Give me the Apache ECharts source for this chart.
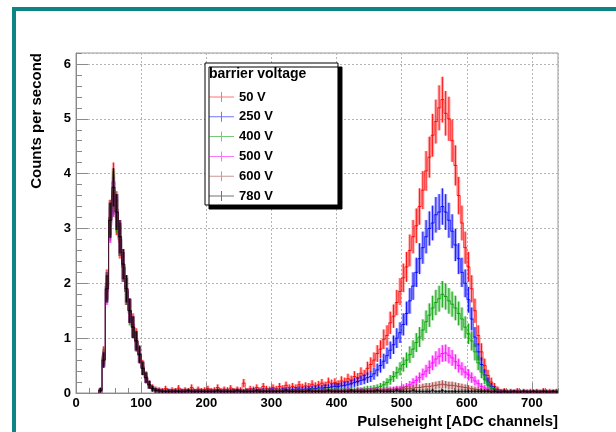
<!DOCTYPE html>
<html>
<head>
<meta charset="utf-8">
<script src="https://cdn.jsdelivr.net/npm/echarts@6/dist/echarts.min.js"></script>
<style>
  html, body { margin: 0; padding: 0; background: #fff; }
  #chart { width: 616px; height: 432px; }
</style>
</head>
<body>
<div id="chart"></div>
<script>
// pulse height spectra, 5 channel bins from channel 0 to 740, counts per second
const BIN_WIDTH = 5;
const ERR_SCALE = 0.18; // error bar half length = ERR_SCALE * sqrt(value)

const names = ['50 V', '250 V', '400 V', '500 V', '600 V', '780 V'];
const colors = ['#ff0000', '#0000ff', '#00a000', '#ff00ff', '#a0403a', '#000000'];

const v50 = [
  0, 0, 0, 0, 0, 0, 0, 0.06, 0.7, 2.0,
  3.2, 3.85, 3.2, 2.75, 2.35, 1.9, 1.5, 1.25, 1.0, 0.72,
  0.48, 0.3, 0.16, 0.1, 0.07, 0.06, 0.05, 0.08, 0.04, 0.06,
  0.05, 0.09, 0.04, 0.06, 0.05, 0.1, 0.04, 0.07, 0.05, 0.06,
  0.08, 0.05, 0.06, 0.1, 0.05, 0.07, 0.06, 0.09, 0.05, 0.07,
  0.06, 0.18, 0.05, 0.08, 0.07, 0.1, 0.06, 0.12, 0.08, 0.07,
  0.1, 0.08, 0.12, 0.09, 0.14, 0.1, 0.12, 0.1, 0.15, 0.11,
  0.13, 0.12, 0.16, 0.13, 0.15, 0.18, 0.14, 0.2, 0.17, 0.19,
  0.16, 0.22, 0.2, 0.26, 0.23, 0.3, 0.27, 0.36, 0.32, 0.45,
  0.52, 0.6, 0.72, 0.8, 0.98, 1.05, 1.28, 1.4, 1.65, 1.85,
  2.1, 2.3, 2.6, 2.85, 3.05, 3.4, 3.7, 4.05, 4.3, 4.7,
  4.95, 5.2, 5.35, 5.1, 5.0, 4.6, 4.15, 3.6, 3.1, 2.65,
  2.3, 1.9, 1.5, 1.05, 0.75, 0.5, 0.32, 0.2, 0.12, 0.07,
  0.04, 0.05, 0.03, 0.04, 0.03, 0.05, 0.03, 0.04, 0.03, 0.04,
  0.03, 0.04, 0.03, 0.05, 0.03, 0.04, 0.03, 0.04
];

const v250 = [
  0, 0, 0, 0, 0, 0, 0, 0.05, 0.62, 1.95,
  3.15, 3.6, 3.3, 2.8, 2.3, 1.85, 1.5, 1.2, 0.95, 0.7,
  0.45, 0.27, 0.15, 0.08, 0.05, 0.04, 0.04, 0.03, 0.04, 0.03,
  0.04, 0.03, 0.04, 0.04, 0.03, 0.04, 0.03, 0.04, 0.04, 0.03,
  0.04, 0.04, 0.03, 0.04, 0.03, 0.04, 0.04, 0.03, 0.04, 0.04,
  0.04, 0.03, 0.04, 0.04, 0.05, 0.04, 0.04, 0.05, 0.04, 0.05,
  0.05, 0.04, 0.05, 0.05, 0.06, 0.05, 0.06, 0.06, 0.07, 0.06,
  0.07, 0.07, 0.08, 0.08, 0.09, 0.09, 0.1, 0.1, 0.11, 0.12,
  0.12, 0.13, 0.14, 0.15, 0.17, 0.19, 0.21, 0.23, 0.25, 0.28,
  0.3, 0.35, 0.42, 0.5, 0.58, 0.68, 0.78, 0.88, 1.0, 1.1,
  1.25, 1.45, 1.68, 1.95, 2.2, 2.45, 2.65, 2.85, 3.0, 3.1,
  3.25, 3.3, 3.4, 3.3, 3.15, 2.95, 2.7, 2.45, 2.2, 2.0,
  1.7, 1.35, 1.02, 0.75, 0.52, 0.33, 0.2, 0.12, 0.07, 0.04,
  0.03, 0.03, 0.02, 0.03, 0.02, 0.03, 0.02, 0.02, 0.03, 0.02,
  0.02, 0.03, 0.02, 0.02, 0.03, 0.02, 0.02, 0.03
];

const v400 = [
  0, 0, 0, 0, 0, 0, 0, 0.05, 0.65, 1.9,
  3.1, 3.7, 3.25, 2.8, 2.3, 1.85, 1.45, 1.2, 0.95, 0.7,
  0.45, 0.28, 0.15, 0.08, 0.05, 0.04, 0.03, 0.04, 0.03, 0.03,
  0.03, 0.04, 0.03, 0.03, 0.04, 0.03, 0.03, 0.04, 0.03, 0.03,
  0.04, 0.03, 0.03, 0.04, 0.03, 0.03, 0.04, 0.03, 0.03, 0.04,
  0.03, 0.03, 0.04, 0.03, 0.04, 0.03, 0.03, 0.04, 0.03, 0.04,
  0.03, 0.04, 0.04, 0.03, 0.04, 0.04, 0.03, 0.04, 0.04, 0.04,
  0.04, 0.04, 0.05, 0.04, 0.05, 0.04, 0.05, 0.05, 0.05, 0.05,
  0.05, 0.05, 0.06, 0.05, 0.06, 0.06, 0.07, 0.06, 0.07, 0.08,
  0.08, 0.09, 0.1, 0.12, 0.15, 0.19, 0.24, 0.3, 0.37, 0.44,
  0.52, 0.6, 0.7, 0.8, 0.92, 1.02, 1.15, 1.3, 1.42, 1.55,
  1.65, 1.72, 1.8, 1.76, 1.68, 1.62, 1.55, 1.45, 1.35, 1.2,
  1.08, 0.95, 0.75, 0.55, 0.38, 0.25, 0.15, 0.08, 0.05, 0.03,
  0.02, 0.02, 0.03, 0.02, 0.02, 0.02, 0.03, 0.02, 0.02, 0.02,
  0.02, 0.02, 0.03, 0.02, 0.02, 0.02, 0.02, 0.03
];

const v500 = [
  0, 0, 0, 0, 0, 0, 0, 0.04, 0.6, 1.85,
  3.05, 3.55, 3.3, 2.85, 2.3, 1.9, 1.5, 1.2, 0.92, 0.68,
  0.44, 0.27, 0.14, 0.08, 0.05, 0.04, 0.03, 0.03, 0.04, 0.03,
  0.03, 0.03, 0.04, 0.03, 0.03, 0.03, 0.04, 0.03, 0.03, 0.03,
  0.03, 0.04, 0.03, 0.03, 0.03, 0.04, 0.03, 0.03, 0.03, 0.04,
  0.03, 0.03, 0.03, 0.04, 0.03, 0.03, 0.04, 0.03, 0.03, 0.03,
  0.03, 0.04, 0.03, 0.03, 0.04, 0.03, 0.03, 0.04, 0.03, 0.04,
  0.03, 0.04, 0.04, 0.03, 0.04, 0.04, 0.04, 0.03, 0.04, 0.04,
  0.04, 0.04, 0.04, 0.05, 0.04, 0.04, 0.05, 0.05, 0.04, 0.05,
  0.05, 0.05, 0.06, 0.05, 0.06, 0.06, 0.07, 0.07, 0.08, 0.08,
  0.1, 0.12, 0.15, 0.19, 0.23, 0.28, 0.34, 0.4, 0.47, 0.55,
  0.62, 0.67, 0.72, 0.73, 0.69, 0.64, 0.57, 0.5, 0.44, 0.38,
  0.33, 0.28, 0.22, 0.17, 0.12, 0.09, 0.06, 0.04, 0.03, 0.02,
  0.02, 0.02, 0.02, 0.01, 0.02, 0.02, 0.01, 0.02, 0.02, 0.01,
  0.02, 0.01, 0.02, 0.02, 0.01, 0.02, 0.02, 0.01
];

const v600 = [
  0, 0, 0, 0, 0, 0, 0, 0.05, 0.66, 1.95,
  3.2, 3.65, 3.35, 2.8, 2.3, 1.85, 1.5, 1.2, 0.95, 0.7,
  0.45, 0.28, 0.15, 0.08, 0.05, 0.04, 0.03, 0.03, 0.03, 0.03,
  0.03, 0.03, 0.03, 0.04, 0.03, 0.03, 0.03, 0.03, 0.04, 0.03,
  0.03, 0.03, 0.04, 0.03, 0.03, 0.03, 0.03, 0.04, 0.03, 0.03,
  0.03, 0.04, 0.03, 0.03, 0.03, 0.03, 0.04, 0.03, 0.03, 0.03,
  0.03, 0.03, 0.04, 0.03, 0.03, 0.03, 0.03, 0.04, 0.03, 0.03,
  0.03, 0.03, 0.03, 0.04, 0.03, 0.03, 0.03, 0.03, 0.04, 0.03,
  0.03, 0.03, 0.03, 0.04, 0.03, 0.03, 0.04, 0.03, 0.04, 0.04,
  0.04, 0.05, 0.04, 0.05, 0.05, 0.06, 0.05, 0.06, 0.07, 0.06,
  0.07, 0.08, 0.08, 0.09, 0.1, 0.1, 0.11, 0.12, 0.12, 0.13,
  0.14, 0.15, 0.16, 0.15, 0.14, 0.14, 0.13, 0.12, 0.11, 0.1,
  0.09, 0.08, 0.07, 0.06, 0.05, 0.04, 0.04, 0.03, 0.03, 0.02,
  0.02, 0.02, 0.02, 0.02, 0.02, 0.02, 0.02, 0.02, 0.02, 0.02,
  0.02, 0.02, 0.02, 0.02, 0.02, 0.02, 0.02, 0.02
];

const v780 = [
  0, 0, 0, 0, 0, 0, 0, 0.05, 0.6, 1.9,
  3.15, 3.75, 3.3, 2.85, 2.35, 1.9, 1.5, 1.2, 0.95, 0.7,
  0.45, 0.28, 0.15, 0.08, 0.05, 0.04, 0.03, 0.03, 0.03, 0.03,
  0.03, 0.03, 0.03, 0.03, 0.04, 0.03, 0.03, 0.03, 0.03, 0.03,
  0.03, 0.03, 0.03, 0.04, 0.03, 0.03, 0.03, 0.03, 0.03, 0.04,
  0.03, 0.03, 0.03, 0.03, 0.03, 0.04, 0.03, 0.03, 0.03, 0.03,
  0.03, 0.03, 0.03, 0.03, 0.04, 0.03, 0.03, 0.03, 0.03, 0.03,
  0.03, 0.04, 0.03, 0.03, 0.03, 0.03, 0.03, 0.04, 0.03, 0.03,
  0.03, 0.03, 0.03, 0.03, 0.04, 0.03, 0.03, 0.03, 0.03, 0.03,
  0.03, 0.03, 0.04, 0.03, 0.03, 0.03, 0.03, 0.03, 0.04, 0.03,
  0.03, 0.03, 0.03, 0.04, 0.03, 0.03, 0.03, 0.03, 0.03, 0.04,
  0.03, 0.03, 0.04, 0.03, 0.03, 0.03, 0.03, 0.03, 0.03, 0.03,
  0.03, 0.03, 0.03, 0.03, 0.03, 0.03, 0.03, 0.02, 0.03, 0.02,
  0.02, 0.03, 0.02, 0.02, 0.03, 0.02, 0.02, 0.03, 0.02, 0.02,
  0.03, 0.02, 0.02, 0.03, 0.02, 0.02, 0.03, 0.02
];

const spectra = [v50, v250, v400, v500, v600, v780];

const FONT = '"Liberation Sans", Arial, Helvetica, sans-serif';

// histogram bin with error band + error bar, ROOT "E" style
function renderBin(params, api) {
  const x0 = api.value(0), x1 = api.value(1), y = api.value(2);
  if (!(y > 0)) return null;
  const e = ERR_SCALE * Math.sqrt(y);
  const a = api.coord([x0, y]);
  const b = api.coord([x1, y]);
  const xm = (x0 + x1) / 2;
  const top = api.coord([xm, y + e]);
  const bot = api.coord([xm, Math.max(0, y - e)]);
  const color = api.visual('color');
  const lineStyle = { stroke: color, lineWidth: 1, opacity: 0.9 };
  const children = [
    {
      type: 'rect',
      shape: { x: a[0], y: top[1], width: b[0] - a[0], height: bot[1] - top[1] },
      style: { fill: color, opacity: 0.3 }
    },
    { type: 'line', shape: { x1: a[0], y1: a[1], x2: b[0], y2: b[1] }, style: lineStyle },
    { type: 'line', shape: { x1: top[0], y1: top[1], x2: bot[0], y2: bot[1] }, style: lineStyle }
  ];
  // join to the previous bin so steep edges read as a continuous trace
  if (params.dataIndexInside > 0) {
    const prev = api.value(2, params.dataIndexInside - 1);
    const p = api.coord([x0, prev]);
    children.push({
      type: 'line', shape: { x1: a[0], y1: p[1], x2: a[0], y2: a[1] },
      style: { stroke: color, lineWidth: 1, opacity: 0.6 }
    });
  }
  return { type: 'group', children: children };
}

const series = spectra.map(function (vals, k) {
  return {
    name: names[k],
    type: 'custom',
    xAxisIndex: 0,
    yAxisIndex: 0,
    clip: true,
    itemStyle: { color: colors[k] },
    encode: { x: [0, 1], y: 2 },
    renderItem: renderBin,
    data: vals.map(function (v, i) { return [i * BIN_WIDTH, (i + 1) * BIN_WIDTH, v]; })
  };
});

const tickGray = '#8a8a8a';
const labelStyle = { fontFamily: FONT, fontWeight: 'bold', fontSize: 13, color: '#000' };

const chart = echarts.init(document.getElementById('chart'), null, { renderer: 'canvas' });
chart.setOption({
  animation: false,
  backgroundColor: '#fff',
  grid: {
    left: 76, top: 53, right: 58, bottom: 39,
    show: true, borderColor: '#999', borderWidth: 1, backgroundColor: 'transparent'
  },
  xAxis: [{
    type: 'value', min: 0, max: 740, interval: 100,
    axisLine: { show: true, onZero: false, lineStyle: { color: tickGray } },
    axisTick: { show: true, inside: true, length: 10, lineStyle: { color: tickGray } },
    axisLabel: Object.assign({ margin: 4, showMaxLabel: false }, labelStyle),
    splitLine: { show: true, lineStyle: { color: '#b4b4b4', type: [2, 2] } }
  }, {
    type: 'value', min: 0, max: 740, interval: 20, position: 'bottom',
    axisLine: { show: false },
    axisTick: { show: true, inside: true, length: 5, lineStyle: { color: tickGray } },
    axisLabel: { show: false },
    splitLine: { show: false }
  }],
  yAxis: [{
    type: 'value', min: 0, max: 6.2, interval: 1,
    axisLine: { show: true, onZero: false, lineStyle: { color: tickGray } },
    axisTick: { show: true, inside: true, length: 12, lineStyle: { color: tickGray } },
    axisLabel: Object.assign({ margin: 5, showMaxLabel: false }, labelStyle),
    splitLine: { show: true, lineStyle: { color: '#b4b4b4', type: [2, 2] } }
  }, {
    type: 'value', min: 0, max: 6.2, interval: 0.2, position: 'left',
    axisLine: { show: false },
    axisTick: { show: true, inside: true, length: 6, lineStyle: { color: tickGray } },
    axisLabel: { show: false },
    splitLine: { show: false }
  }],
  legend: {
    orient: 'vertical',
    left: 205, top: 63,
    padding: [27, 65, 2, 4],
    itemWidth: 25, itemHeight: 10, itemGap: 5.8,
    icon: 'path://M0,4.5H25V5.5H0Z M12,0H13V10H12Z',
    backgroundColor: '#fff', borderColor: '#000', borderWidth: 1,
    shadowColor: '#000', shadowBlur: 0, shadowOffsetX: 4, shadowOffsetY: 4,
    itemStyle: { opacity: 0.55 },
    textStyle: { fontFamily: FONT, fontWeight: 'bold', fontSize: 13, lineHeight: 14, color: '#000' },
    data: names
  },
  graphic: [
    {
      type: 'rect', silent: true, z: 100,
      shape: { x: 14, y: 9, width: 700, height: 500 },
      style: { fill: 'none', stroke: '#0b8585', lineWidth: 4 }
    },
    {
      type: 'text', x: 37, y: 53, rotation: Math.PI / 2, z: 100,
      style: { text: 'Counts per second', font: 'bold 15px ' + FONT, fill: '#000', align: 'right', verticalAlign: 'middle' }
    },
    {
      type: 'text', x: 558, y: 429, z: 100,
      style: { text: 'Pulseheight [ADC channels]', font: 'bold 15px ' + FONT, fill: '#000', align: 'right', verticalAlign: 'bottom' }
    },
    {
      type: 'text', x: 209, y: 74, z: 100,
      style: { text: 'barrier voltage', font: 'bold 14px ' + FONT, fill: '#000', align: 'left', verticalAlign: 'middle' }
    }
  ],
  series: series
});
</script>
</body>
</html>
